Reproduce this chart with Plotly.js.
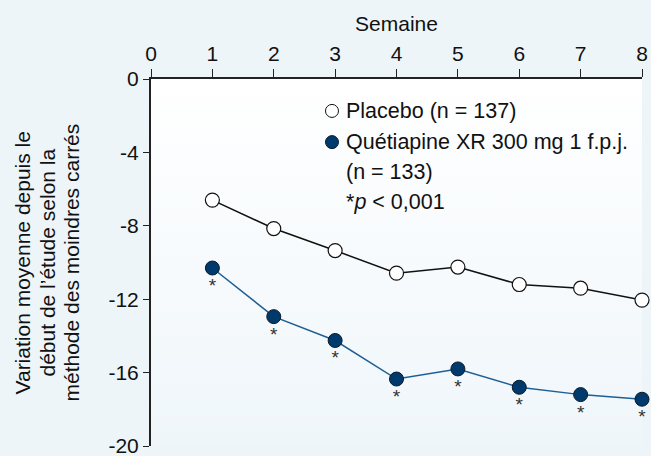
<!DOCTYPE html>
<html>
<head>
<meta charset="utf-8">
<script src="https://cdn.plot.ly/plotly-3.0.1.min.js"></script>
<style>
html,body{margin:0;padding:0;background:#edf5f9;}
#chart{width:651px;height:456px;}
</style>
</head>
<body>
<div id="chart"></div>
<script>
var weeks = [1, 2, 3, 4, 5, 6, 7, 8];
var placebo = [-6.6, -8.15, -9.35, -10.58, -10.25, -11.2, -11.4, -12.05];
var quetiapine = [-10.3, -12.95, -14.25, -16.35, -15.8, -16.8, -17.2, -17.45];
var sigMarks = ["*", "*", "*", "*", "*", "*", "*", "*"];
var xTicks = [0, 1, 2, 3, 4, 5, 6, 7, 8];
var yTicks = [0, -4, -8, -12, -16, -20];
var legendLabels = ["Placebo (n = 137)", "Quétiapine XR 300 mg 1 f.p.j.", "(n = 133)", "*<i>p</i> < 0,001"];
var yTitleLines = ["Variation moyenne depuis le", "début de l’étude selon la", "méthode des moindres carrés"];

var FONT = "Liberation Sans, Arial, Helvetica, sans-serif";

var tracePlacebo = {
  x: weeks, y: placebo, type: "scatter", mode: "lines+markers",
  line: {color: "#111111", width: 1.5},
  marker: {size: 14, color: "#ffffff", line: {color: "#111111", width: 1.2}},
  cliponaxis: false, showlegend: false, hoverinfo: "skip"
};
var traceQuet = {
  x: weeks, y: quetiapine, type: "scatter", mode: "lines+markers+text",
  text: sigMarks, textposition: "bottom center",
  textfont: {family: FONT, size: 19, color: "#333333"},
  line: {color: "#1f5e93", width: 1.5},
  marker: {size: 14, color: "#003a6c", line: {color: "#0a1a2a", width: 1}},
  cliponaxis: false, showlegend: false, hoverinfo: "skip"
};

var bgSvg = '<svg xmlns="http://www.w3.org/2000/svg" width="10" height="100" preserveAspectRatio="none"><defs><linearGradient id="g" x1="0" y1="0" x2="0" y2="1"><stop offset="0" stop-color="#ffffff"/><stop offset="1" stop-color="#eff6fa"/></linearGradient></defs><rect width="10" height="100" fill="url(#g)"/></svg>';

var legX = 0.3686, legTextX = 0.393;
var rowY = [0.913, 0.828, 0.746, 0.664];
var titleX = [-0.2607, -0.2098, -0.1609];

var annotations = legendLabels.map(function (t, i) {
  return {xref: "paper", yref: "paper", x: legTextX, y: rowY[i], xanchor: "left", yanchor: "middle",
    text: t, showarrow: false, font: {family: FONT, size: 21.5, color: "#111111"}};
}).concat(yTitleLines.map(function (t, i) {
  return {xref: "paper", yref: "paper", x: titleX[i], y: 0.5, xanchor: "center", yanchor: "middle",
    textangle: -90, text: t, showarrow: false, font: {family: FONT, size: 21, color: "#111111"}};
}));

var shapes = [
  {type: "circle", xref: "paper", yref: "paper", xsizemode: "pixel", ysizemode: "pixel",
   xanchor: legX, yanchor: rowY[0], x0: -6.5, x1: 6.5, y0: -6.5, y1: 6.5,
   fillcolor: "#ffffff", line: {color: "#111111", width: 1}},
  {type: "circle", xref: "paper", yref: "paper", xsizemode: "pixel", ysizemode: "pixel",
   xanchor: legX, yanchor: rowY[1], x0: -6.5, x1: 6.5, y0: -6.5, y1: 6.5,
   fillcolor: "#003a6c", line: {color: "#0a1a2a", width: 1}}
];

var layout = {
  width: 651, height: 456,
  margin: {l: 151, r: 9, t: 79, b: 10},
  paper_bgcolor: "#edf5f9",
  plot_bgcolor: "rgba(0,0,0,0)",
  font: {family: FONT, size: 21, color: "#111111"},
  images: [{source: "data:image/svg+xml;base64," + btoa(bgSvg), xref: "paper", yref: "paper",
    x: 0, y: 1, sizex: 1, sizey: 1, xanchor: "left", yanchor: "top", sizing: "stretch", layer: "below"}],
  xaxis: {
    side: "top", range: [0, 8], tickvals: xTicks, ticktext: xTicks.map(String),
    ticks: "outside", ticklen: 8, tickwidth: 1, tickcolor: "#222222",
    showline: true, linecolor: "#222222", linewidth: 2, showgrid: false, zeroline: false,
    ticklabeloverflow: "allow",
    tickfont: {family: FONT, size: 21, color: "#111111"},
    title: {text: "Semaine", font: {family: FONT, size: 21, color: "#111111"}, standoff: 4}
  },
  yaxis: {
    range: [-20, 0], tickvals: yTicks, ticktext: yTicks.map(String),
    ticks: "outside", ticklen: 6, tickwidth: 1, tickcolor: "#222222",
    showline: true, linecolor: "#222222", linewidth: 2, showgrid: false, zeroline: false,
    ticklabeloverflow: "allow",
    tickfont: {family: FONT, size: 21, color: "#111111"}
  },
  annotations: annotations,
  shapes: shapes,
  showlegend: false
};

Plotly.newPlot("chart", [tracePlacebo, traceQuet], layout, {displayModeBar: false, staticPlot: true});
</script>
</body>
</html>
